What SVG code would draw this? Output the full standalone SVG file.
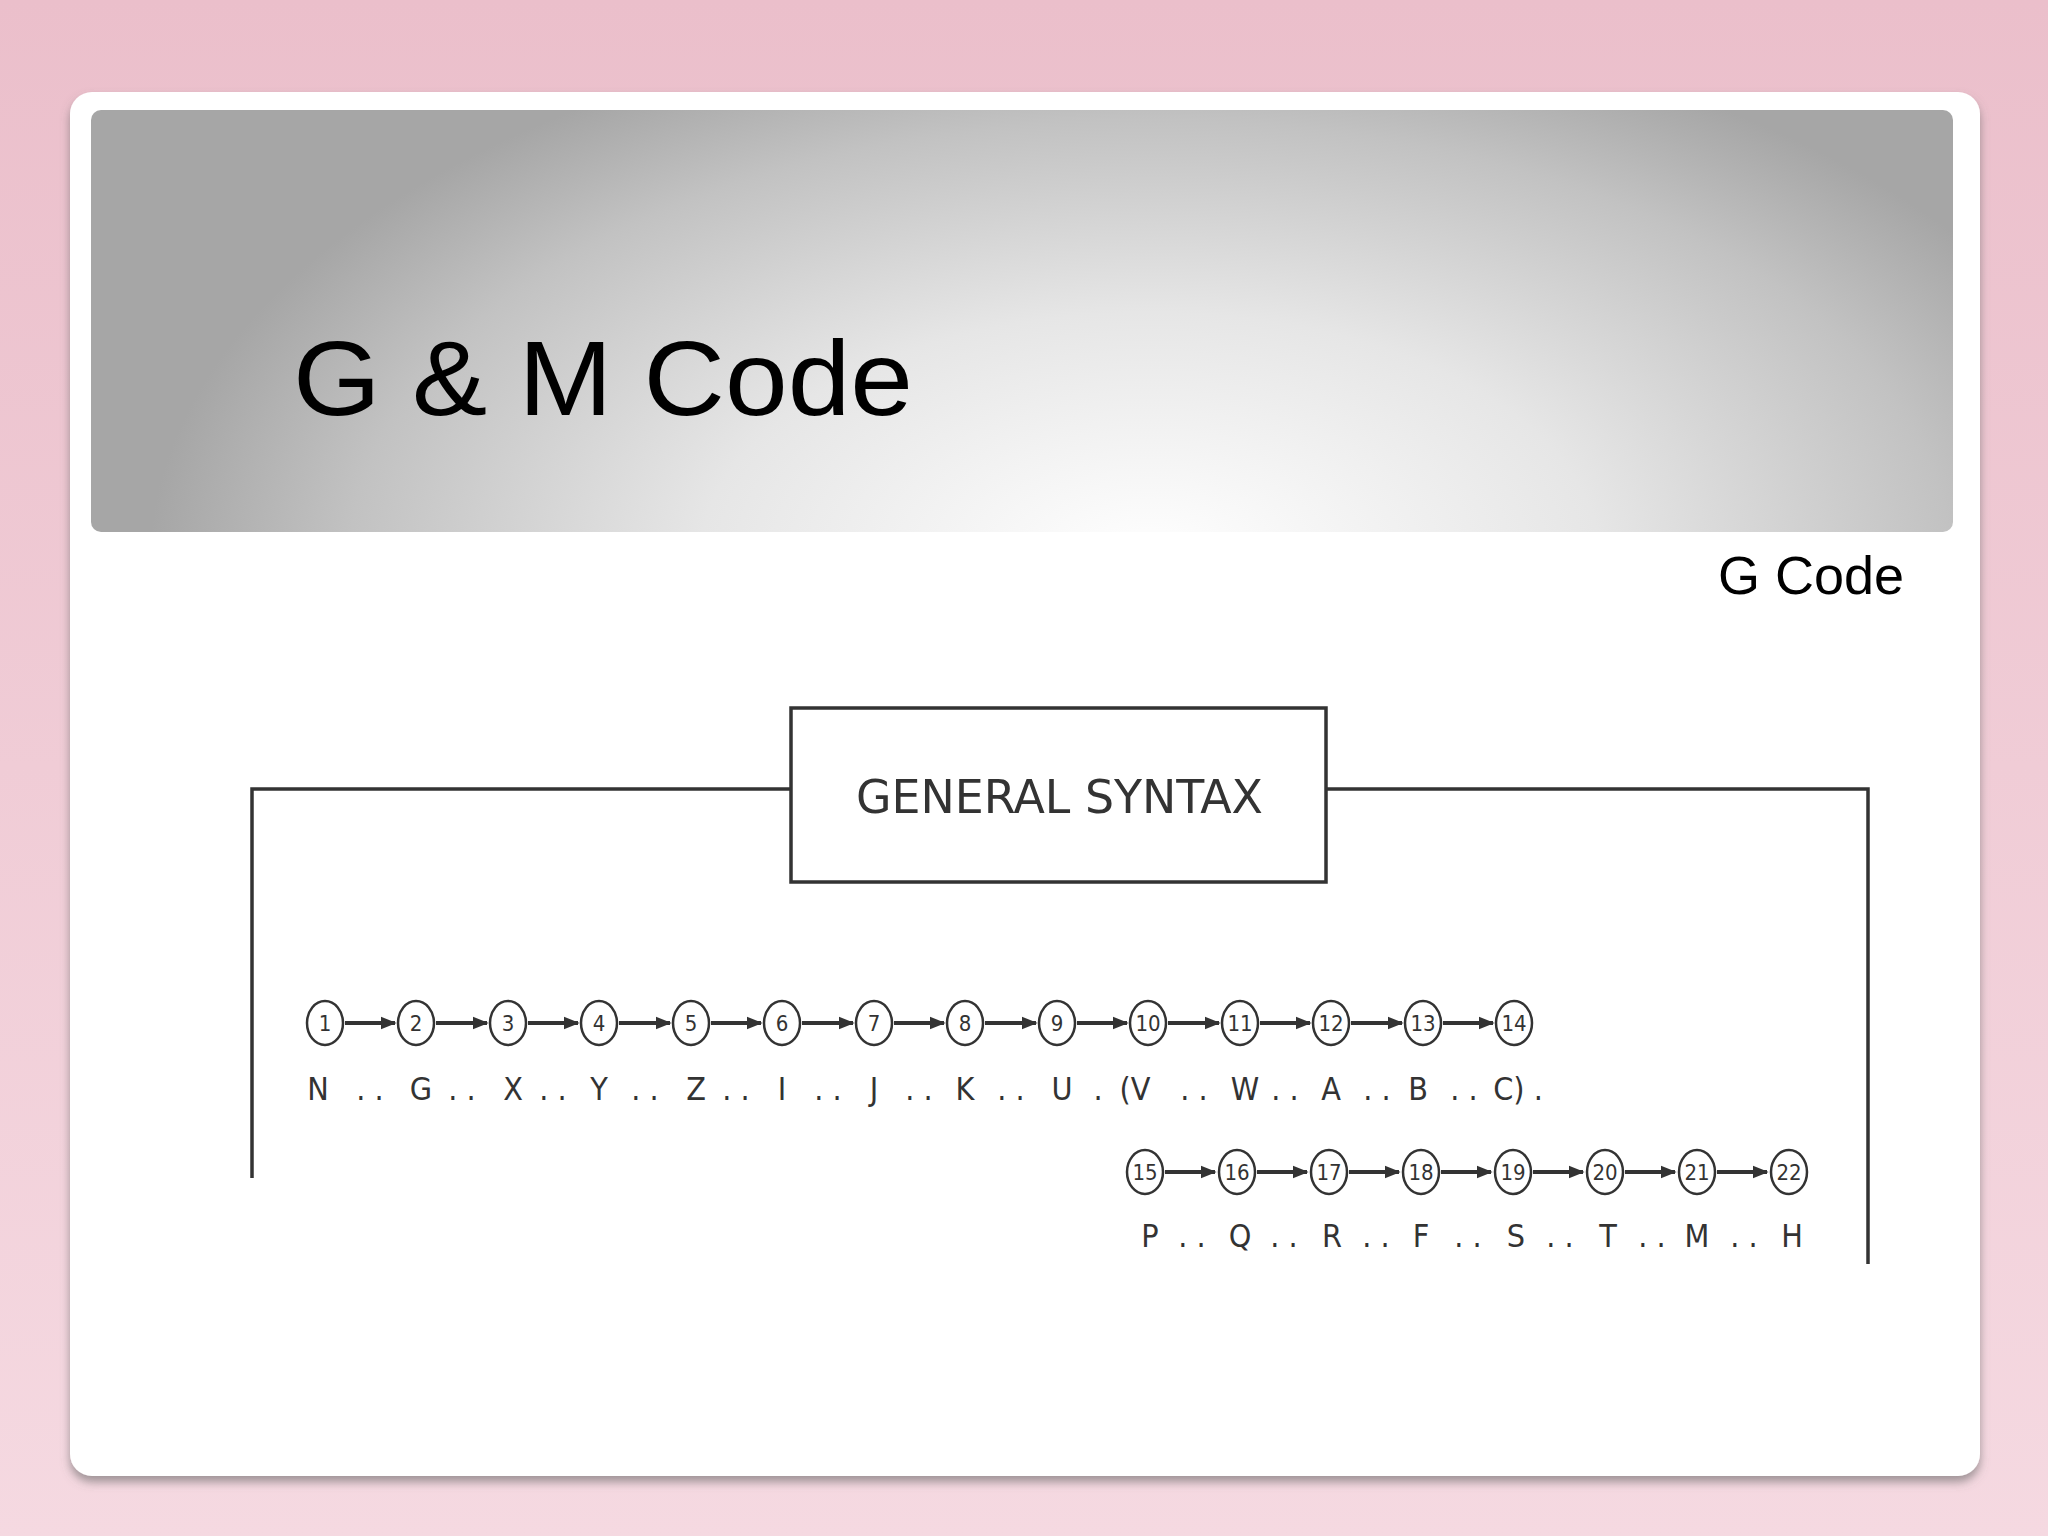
<svg xmlns="http://www.w3.org/2000/svg" width="2048" height="1536" viewBox="0 0 2048 1536">
<defs>
<linearGradient id="bg" x1="0" y1="0" x2="0" y2="1"><stop offset="0" stop-color="#ebbfcb"/><stop offset="1" stop-color="#f5d9e1"/></linearGradient>
<radialGradient id="hd" gradientUnits="userSpaceOnUse" cx="1150" cy="560" r="1000" gradientTransform="translate(1150 560) scale(1 0.55) translate(-1150 -560)"><stop offset="0" stop-color="#ffffff"/><stop offset="0.45" stop-color="#e6e6e6"/><stop offset="0.8" stop-color="#c2c2c2"/><stop offset="1" stop-color="#a6a6a6"/></radialGradient>
<marker id="ar" viewBox="0 0 10 10" refX="9" refY="5" markerWidth="4" markerHeight="4" orient="auto"><path d="M0,1 L10,5 L0,9 z" fill="#333"/></marker>
<filter id="sh" x="-5%" y="-5%" width="110%" height="110%"><feDropShadow dx="0" dy="6" stdDeviation="5" flood-color="#666" flood-opacity="0.6"/></filter>
</defs>
<style>
.c{fill:#fff;stroke:#333;stroke-width:2.5}
.n{font-family:"DejaVu Sans Condensed","Liberation Sans",sans-serif;font-size:22px;fill:#333;text-anchor:middle}
.l{font-family:"DejaVu Sans Condensed","Liberation Sans",sans-serif;font-size:32px;fill:#333;text-anchor:middle}
.a{stroke:#333;stroke-width:4}
.f{fill:none;stroke:#333;stroke-width:3.5}
</style>
<rect width="2048" height="1536" fill="url(#bg)"/>
<rect x="70" y="92" width="1910" height="1384" rx="22" fill="#fff" filter="url(#sh)"/>
<rect x="91" y="110" width="1862" height="422" rx="10" fill="url(#hd)"/>
<text x="293" y="415" font-family="Liberation Sans, Arial, sans-serif" font-size="106" textLength="620" lengthAdjust="spacingAndGlyphs">G &amp; M Code</text>
<text x="1904" y="594" font-family="Liberation Sans, Arial, sans-serif" font-size="54" text-anchor="end">G Code</text>
<g id="frame">
<path class="f" d="M252,1178 V789 H791 M1326,789 H1868 V1264"/>
<rect id="title" x="791" y="708" width="535" height="174" class="f"/>
<text x="856" y="813" font-family="DejaVu Sans Condensed, Liberation Sans, sans-serif" font-size="46" fill="#333" textLength="407" lengthAdjust="spacingAndGlyphs">GENERAL SYNTAX</text>
</g>
<g id="row1">
<g class="connectors">
<line class="a" x1="345" y1="1023" x2="395" y2="1023" marker-end="url(#ar)"/><line class="a" x1="436" y1="1023" x2="487" y2="1023" marker-end="url(#ar)"/><line class="a" x1="528" y1="1023" x2="578" y2="1023" marker-end="url(#ar)"/><line class="a" x1="619" y1="1023" x2="670" y2="1023" marker-end="url(#ar)"/><line class="a" x1="711" y1="1023" x2="761" y2="1023" marker-end="url(#ar)"/><line class="a" x1="802" y1="1023" x2="853" y2="1023" marker-end="url(#ar)"/><line class="a" x1="894" y1="1023" x2="944" y2="1023" marker-end="url(#ar)"/><line class="a" x1="985" y1="1023" x2="1036" y2="1023" marker-end="url(#ar)"/><line class="a" x1="1077" y1="1023" x2="1127" y2="1023" marker-end="url(#ar)"/><line class="a" x1="1168" y1="1023" x2="1219" y2="1023" marker-end="url(#ar)"/><line class="a" x1="1260" y1="1023" x2="1310" y2="1023" marker-end="url(#ar)"/><line class="a" x1="1351" y1="1023" x2="1402" y2="1023" marker-end="url(#ar)"/><line class="a" x1="1443" y1="1023" x2="1493" y2="1023" marker-end="url(#ar)"/>
<line class="a" x1="1165" y1="1172" x2="1215" y2="1172" marker-end="url(#ar)"/><line class="a" x1="1257" y1="1172" x2="1307" y2="1172" marker-end="url(#ar)"/><line class="a" x1="1349" y1="1172" x2="1399" y2="1172" marker-end="url(#ar)"/><line class="a" x1="1441" y1="1172" x2="1491" y2="1172" marker-end="url(#ar)"/><line class="a" x1="1533" y1="1172" x2="1583" y2="1172" marker-end="url(#ar)"/><line class="a" x1="1625" y1="1172" x2="1675" y2="1172" marker-end="url(#ar)"/><line class="a" x1="1717" y1="1172" x2="1767" y2="1172" marker-end="url(#ar)"/>
</g>
<g id="n1"><ellipse class="c" cx="325" cy="1023" rx="18" ry="22"/><text class="n" x="325" y="1031">1</text></g>
<g id="n2"><ellipse class="c" cx="416" cy="1023" rx="18" ry="22"/><text class="n" x="416" y="1031">2</text></g>
<g id="n3"><ellipse class="c" cx="508" cy="1023" rx="18" ry="22"/><text class="n" x="508" y="1031">3</text></g>
<g id="n4"><ellipse class="c" cx="599" cy="1023" rx="18" ry="22"/><text class="n" x="599" y="1031">4</text></g>
<g id="n5"><ellipse class="c" cx="691" cy="1023" rx="18" ry="22"/><text class="n" x="691" y="1031">5</text></g>
<g id="n6"><ellipse class="c" cx="782" cy="1023" rx="18" ry="22"/><text class="n" x="782" y="1031">6</text></g>
<g id="n7"><ellipse class="c" cx="874" cy="1023" rx="18" ry="22"/><text class="n" x="874" y="1031">7</text></g>
<g id="n8"><ellipse class="c" cx="965" cy="1023" rx="18" ry="22"/><text class="n" x="965" y="1031">8</text></g>
<g id="n9"><ellipse class="c" cx="1057" cy="1023" rx="18" ry="22"/><text class="n" x="1057" y="1031">9</text></g>
<g id="n10"><ellipse class="c" cx="1148" cy="1023" rx="18" ry="22"/><text class="n" x="1148" y="1031">10</text></g>
<g id="n11"><ellipse class="c" cx="1240" cy="1023" rx="18" ry="22"/><text class="n" x="1240" y="1031">11</text></g>
<g id="n12"><ellipse class="c" cx="1331" cy="1023" rx="18" ry="22"/><text class="n" x="1331" y="1031">12</text></g>
<g id="n13"><ellipse class="c" cx="1423" cy="1023" rx="18" ry="22"/><text class="n" x="1423" y="1031">13</text></g>
<g id="n14"><ellipse class="c" cx="1514" cy="1023" rx="18" ry="22"/><text class="n" x="1514" y="1031">14</text></g>
<text class="l" x="318" y="1100">N</text><text class="l" x="370" y="1100">. .</text>
<text class="l" x="421" y="1100">G</text><text class="l" x="462" y="1100">. .</text>
<text class="l" x="513" y="1100">X</text><text class="l" x="553" y="1100">. .</text>
<text class="l" x="599" y="1100">Y</text><text class="l" x="645" y="1100">. .</text>
<text class="l" x="696" y="1100">Z</text><text class="l" x="736" y="1100">. .</text>
<text class="l" x="782" y="1100">I</text><text class="l" x="828" y="1100">. .</text>
<text class="l" x="874" y="1100">J</text><text class="l" x="919" y="1100">. .</text>
<text class="l" x="965" y="1100">K</text><text class="l" x="1011" y="1100">. .</text>
<text class="l" x="1062" y="1100">U</text><text class="l" x="1098" y="1100">.</text>
<text class="l" x="1135" y="1100">(V</text><text class="l" x="1194" y="1100">. .</text>
<text class="l" x="1245" y="1100">W</text><text class="l" x="1285" y="1100">. .</text>
<text class="l" x="1331" y="1100">A</text><text class="l" x="1377" y="1100">. .</text>
<text class="l" x="1418" y="1100">B</text><text class="l" x="1464" y="1100">. .</text>
<text class="l" x="1518" y="1100">C) .</text>
</g>
<g id="row2">
<g id="n15"><ellipse class="c" cx="1145" cy="1172" rx="18" ry="22"/><text class="n" x="1145" y="1180">15</text></g>
<g id="n16"><ellipse class="c" cx="1237" cy="1172" rx="18" ry="22"/><text class="n" x="1237" y="1180">16</text></g>
<g id="n17"><ellipse class="c" cx="1329" cy="1172" rx="18" ry="22"/><text class="n" x="1329" y="1180">17</text></g>
<g id="n18"><ellipse class="c" cx="1421" cy="1172" rx="18" ry="22"/><text class="n" x="1421" y="1180">18</text></g>
<g id="n19"><ellipse class="c" cx="1513" cy="1172" rx="18" ry="22"/><text class="n" x="1513" y="1180">19</text></g>
<g id="n20"><ellipse class="c" cx="1605" cy="1172" rx="18" ry="22"/><text class="n" x="1605" y="1180">20</text></g>
<g id="n21"><ellipse class="c" cx="1697" cy="1172" rx="18" ry="22"/><text class="n" x="1697" y="1180">21</text></g>
<g id="n22"><ellipse class="c" cx="1789" cy="1172" rx="18" ry="22"/><text class="n" x="1789" y="1180">22</text></g>
<text class="l" x="1150" y="1247">P</text><text class="l" x="1192" y="1247">. .</text>
<text class="l" x="1240" y="1247">Q</text><text class="l" x="1284" y="1247">. .</text>
<text class="l" x="1332" y="1247">R</text><text class="l" x="1376" y="1247">. .</text>
<text class="l" x="1421" y="1247">F</text><text class="l" x="1468" y="1247">. .</text>
<text class="l" x="1516" y="1247">S</text><text class="l" x="1560" y="1247">. .</text>
<text class="l" x="1608" y="1247">T</text><text class="l" x="1652" y="1247">. .</text>
<text class="l" x="1697" y="1247">M</text><text class="l" x="1744" y="1247">. .</text>
<text class="l" x="1792" y="1247">H</text>
</g>
</svg>
